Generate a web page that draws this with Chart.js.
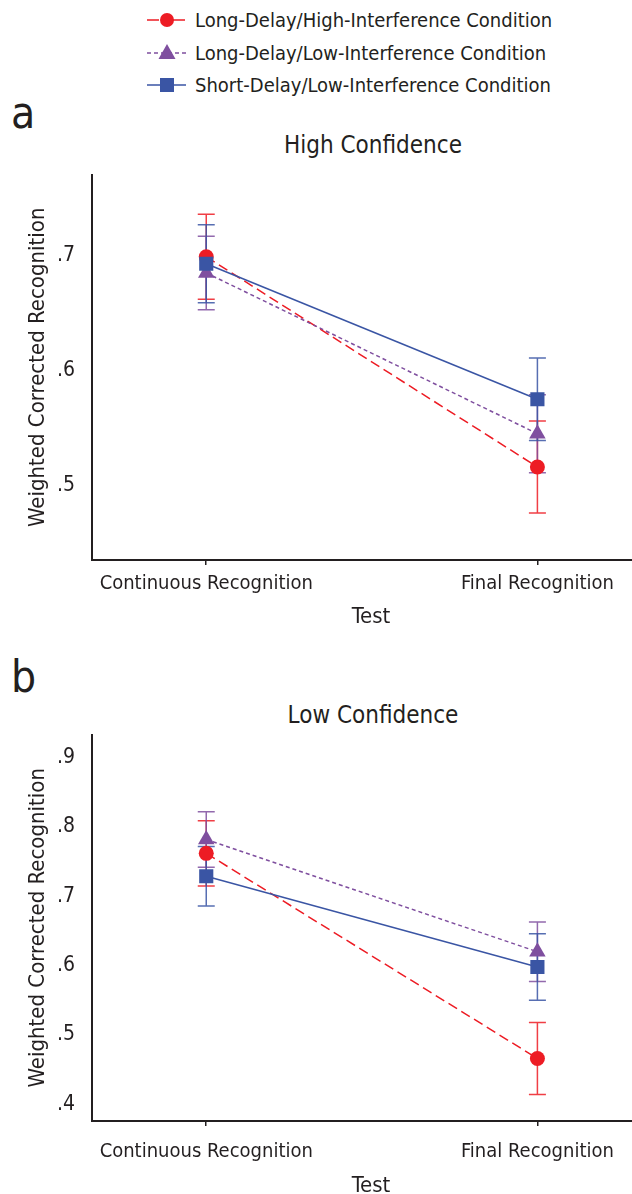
<!DOCTYPE html>
<html lang="en">
<head>
<meta charset="UTF-8">
<title>Weighted Corrected Recognition by Test</title>
<script src="https://cdn.jsdelivr.net/npm/chart.js"></script>
<style>
  * { margin: 0; padding: 0; box-sizing: border-box; }
  html, body { width: 632px; height: 1194px; overflow: hidden; background: #fff; }
  body { position: relative; font-family: "DejaVu Sans Condensed", "Liberation Sans Narrow", sans-serif; color: #231f20; }
  .legend-row { position: absolute; left: 146px; height: 26px; display: flex; align-items: center; font-size: 20px; white-space: nowrap; }
  .legend-row svg { width: 42px; height: 26px; margin-right: 7px; }
  .panel-letter { position: absolute; left: 11px; font-size: 44px; line-height: 1; }
  .panel-title { position: absolute; left: 373px; font-size: 24px; line-height: 1; transform: translate(-50%, -50%); white-space: nowrap; }
  .chart-box { position: absolute; left: 0; width: 660px; }
</style>
</head>
<body>
  <div class="legend-row" style="top: 7px;">
    <svg viewBox="0 0 42 26"><line x1="1" y1="13" x2="40" y2="13" stroke="#ed1c24" stroke-width="1.5" stroke-dasharray="12 4 6 4"/><circle cx="21" cy="13" r="7" fill="#ed1c24"/></svg>
    <span>Long-Delay/High-Interference Condition</span>
  </div>
  <div class="legend-row" style="top: 40px;">
    <svg viewBox="0 0 42 26"><line x1="1" y1="13" x2="40" y2="13" stroke="#7f4f9f" stroke-width="1.5" stroke-dasharray="4 3"/><polygon points="21,4 29.5,19 12.5,19" fill="#7f4f9f"/></svg>
    <span>Long-Delay/Low-Interference Condition</span>
  </div>
  <div class="legend-row" style="top: 72px;">
    <svg viewBox="0 0 42 26"><line x1="1" y1="13" x2="40" y2="13" stroke="#3a55a4" stroke-width="1.5"/><rect x="14" y="6" width="14" height="14" fill="#3a55a4"/></svg>
    <span>Short-Delay/Low-Interference Condition</span>
  </div>

  <div class="panel-letter" style="top: 91px;">a</div>
  <div class="panel-title" style="top: 145px;">High Confidence</div>
  <div class="chart-box" style="top: 153px; height: 487px;"><canvas id="chartHigh"></canvas></div>

  <div class="panel-letter" style="top: 655px;">b</div>
  <div class="panel-title" style="top: 715px;">Low Confidence</div>
  <div class="chart-box" style="top: 713px; height: 492px;"><canvas id="chartLow"></canvas></div>

<script>
// categories on the x axis (positions 0 and 1)
const categories = ['Continuous Recognition', 'Final Recognition'];
const seriesNames = [
  'Long-Delay/High-Interference Condition',
  'Long-Delay/Low-Interference Condition',
  'Short-Delay/Low-Interference Condition'
];

// panel a: high confidence (means and error bar half-lengths)
const highRedMean = [0.699, 0.516];
const highRedErr = [0.037, 0.040];
const highPurpleMean = [0.685, 0.545];
const highPurpleErr = [0.032, 0.034];
const highBlueMean = [0.693, 0.575];
const highBlueErr = [0.034, 0.036];
const highTicks = [0.5, 0.6, 0.7];

// panel b: low confidence
const lowRedMean = [0.762, 0.466];
const lowRedErr = [0.047, 0.052];
const lowPurpleMean = [0.782, 0.620];
const lowPurpleErr = [0.040, 0.043];
const lowBlueMean = [0.729, 0.598];
const lowBlueErr = [0.043, 0.048];
const lowTicks = [0.4, 0.5, 0.6, 0.7, 0.8, 0.9];

const FONT = '"DejaVu Sans Condensed", "Liberation Sans Narrow", sans-serif';
const INK = '#231f20';
Chart.defaults.font.family = FONT;
Chart.defaults.color = INK;

const RED = '#ed1c24', PURPLE = '#7f4f9f', BLUE = '#3a55a4';

// vertical error bars with caps, drawn under the markers
const errorBars = {
  id: 'errorBars',
  beforeDatasetsDraw(chart) {
    const { ctx, scales: { x, y } } = chart;
    chart.data.datasets.forEach(ds => {
      ctx.save();
      ctx.strokeStyle = ds.barColor;
      ctx.lineWidth = 1.5;
      ds.data.forEach((pt, j) => {
        const e = ds.errors[j];
        const px = x.getPixelForValue(pt.x);
        const top = y.getPixelForValue(pt.y + e);
        const bot = y.getPixelForValue(pt.y - e);
        ctx.beginPath();
        ctx.moveTo(px, top); ctx.lineTo(px, bot);
        ctx.moveTo(px - 8.5, top); ctx.lineTo(px + 8.5, top);
        ctx.moveTo(px - 8.5, bot); ctx.lineTo(px + 8.5, bot);
        ctx.stroke();
      });
      ctx.restore();
    });
  }
};

function points(values) {
  return values.map((v, i) => ({ x: i, y: v }));
}

function makeChart(id, redMean, redErr, purpleMean, purpleErr, blueMean, blueErr, yMin, yMax, yTicks, xHeight, labelPad, xTitlePad) {
  new Chart(document.getElementById(id), {
    type: 'line',
    data: {
      datasets: [
        {
          label: seriesNames[0], data: points(redMean), errors: redErr, barColor: 'rgba(237,28,36,0.85)',
          borderColor: RED, backgroundColor: RED, borderWidth: 1.5, borderDash: [10, 5],
          pointStyle: 'circle', pointRadius: 7.5, pointBorderWidth: 0, order: 3
        },
        {
          label: seriesNames[1], data: points(purpleMean), errors: purpleErr, barColor: 'rgba(127,79,159,0.85)',
          borderColor: PURPLE, backgroundColor: PURPLE, borderWidth: 1.5, borderDash: [4, 3],
          pointStyle: 'triangle', pointRadius: 9.5, pointBorderWidth: 0, order: 2
        },
        {
          label: seriesNames[2], data: points(blueMean), errors: blueErr, barColor: 'rgba(58,85,164,0.85)',
          borderColor: BLUE, backgroundColor: BLUE, borderWidth: 1.5,
          pointStyle: 'rect', pointRadius: 10, pointBorderWidth: 0, order: 1
        }
      ]
    },
    options: {
      responsive: true,
      maintainAspectRatio: false,
      animation: false,
      // top space comes from the y tick label padding (~22px)
      layout: { padding: { top: 0, right: 8, left: 0, bottom: 0 } },
      plugins: { legend: { display: false }, tooltip: { enabled: false } },
      scales: {
        x: {
          type: 'linear', min: -0.345, max: 1.34,
          afterBuildTicks: s => { s.ticks = categories.map((c, i) => ({ value: i })); },
          afterFit: s => { s.height = xHeight; },
          ticks: { callback: v => categories[v], font: { size: 20 }, padding: labelPad, color: INK, maxRotation: 0, autoSkip: false },
          grid: { display: true, drawOnChartArea: false, drawTicks: true, tickLength: 5, color: INK, lineWidth: 1.5 },
          border: { display: true, color: INK, width: 2 },
          title: { display: true, text: 'Test', font: { size: 22 }, color: INK, padding: { top: 0, bottom: xTitlePad } }
        },
        y: {
          min: yMin, max: yMax,
          afterBuildTicks: s => { s.ticks = yTicks.map(v => ({ value: v })); },
          afterFit: s => { s.width = 92; },
          ticks: { callback: v => v.toFixed(1).replace(/^0/, ''), font: { size: 21 }, padding: 9, color: INK },
          grid: { display: false },
          border: { display: true, color: INK, width: 2 },
          title: { display: true, text: 'Weighted Corrected Recognition', font: { size: 22 }, color: INK, padding: { top: 25, bottom: 0 } }
        }
      }
    },
    plugins: [errorBars]
  });
}

makeChart('chartHigh', highRedMean, highRedErr, highPurpleMean, highPurpleErr, highBlueMean, highBlueErr,
  0.435, 0.7706, highTicks, 80, 7, 10);
makeChart('chartLow', lowRedMean, lowRedErr, lowPurpleMean, lowPurpleErr, lowBlueMean, lowBlueErr,
  0.3758, 0.9333, lowTicks, 84, 14, 6);
</script>
</body>
</html>
